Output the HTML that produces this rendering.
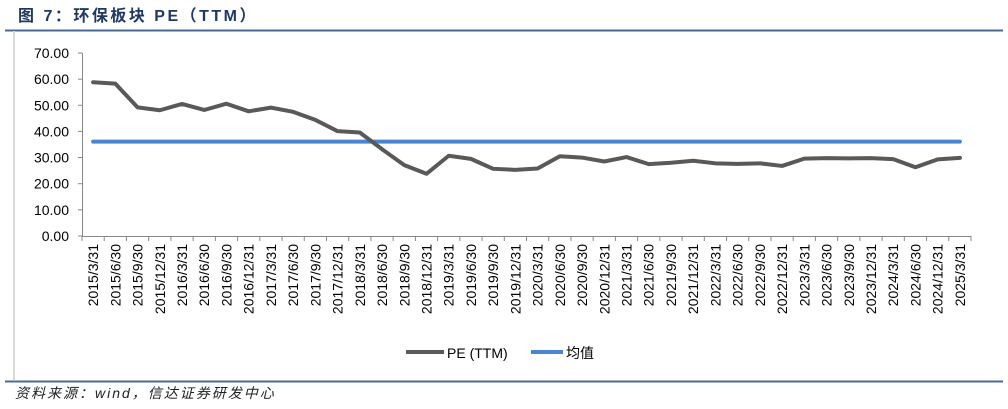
<!DOCTYPE html>
<html><head><meta charset="utf-8"><style>
body{margin:0;width:1008px;height:404px;background:#fff;overflow:hidden;font-family:"Liberation Sans","Noto Sans CJK SC",sans-serif;}
</style></head><body>
<svg width="1008" height="404" xmlns="http://www.w3.org/2000/svg">
<text x="18" y="21" font-size="16" font-weight="bold" fill="#1f3864" letter-spacing="2.5" font-family="Liberation Sans,Noto Sans CJK SC,sans-serif">图 7：环保板块 PE（TTM）</text>
<line x1="5" y1="30.5" x2="1003" y2="30.5" stroke="#4a6a94" stroke-width="2"/>
<line x1="14" y1="31" x2="14" y2="380" stroke="#d9d9d9" stroke-width="2"/>
<line x1="5" y1="381.5" x2="1003" y2="381.5" stroke="#4a6a94" stroke-width="2"/>
<text x="15" y="398" font-size="14" font-style="italic" fill="#222" letter-spacing="2" font-family="Liberation Sans,Noto Sans CJK SC,sans-serif">资料来源：wind，信达证券研发中心</text>
<g id="plot"></g>
<g>
<line x1="406" y1="352" x2="444" y2="352" stroke="#595959" stroke-width="4"/>
<text x="447" y="358" font-size="14" fill="#000">PE (TTM)</text>
<line x1="531" y1="352" x2="563" y2="352" stroke="#4a86d0" stroke-width="4"/>
<text x="566" y="358" font-size="14" fill="#000">均值</text>
</g>
</svg>
<script>
const categories=["2015/3/31","2015/6/30","2015/9/30","2015/12/31","2016/3/31","2016/6/30","2016/9/30","2016/12/31","2017/3/31","2017/6/30","2017/9/30","2017/12/31","2018/3/31","2018/6/30","2018/9/30","2018/12/31","2019/3/31","2019/6/30","2019/9/30","2019/12/31","2020/3/31","2020/6/30","2020/9/30","2020/12/31","2021/3/31","2021/6/30","2021/9/30","2021/12/31","2022/3/31","2022/6/30","2022/9/30","2022/12/31","2023/3/31","2023/6/30","2023/9/30","2023/12/31","2024/3/31","2024/6/30","2024/12/31","2025/3/31"];
const peValues=[58.8,58.3,49.2,48.1,50.5,48.2,50.6,47.7,49.1,47.5,44.4,40.1,39.6,33.2,27.1,23.8,30.7,29.5,25.7,25.3,25.8,30.5,30.0,28.5,30.2,27.5,28.0,28.8,27.8,27.6,27.8,26.8,29.6,29.8,29.7,29.8,29.4,26.3,29.3,29.9];
const meanValues=categories.map(()=>36.1);
const yTicks=[0,10,20,30,40,50,60,70];
const NS="http://www.w3.org/2000/svg";
const g=document.getElementById('plot');
const x0=82,x1=971,yTop=53,yBot=236,yMax=70;
const bw=(x1-x0)/categories.length;
const X=i=>x0+bw*(i+0.5);
const Y=v=>yBot-(v/yMax)*(yBot-yTop);
function mk(t,a){const e=document.createElementNS(NS,t);for(const k in a)e.setAttribute(k,a[k]);g.appendChild(e);return e;}
let ax=mk('line',{x1:x0+0.5,y1:yTop,x2:x0+0.5,y2:yBot,stroke:'#888'});


yTicks.forEach(v=>{
 const t=mk('line',{x1:x0-4,y1:Y(v),x2:x0,y2:Y(v),stroke:'#888'});
 
 
 const l=mk('text',{x:x0-13,y:Y(v)+5,'font-size':14,'text-anchor':'end',fill:'#000'});
 l.textContent=v.toFixed(2);
 
 
});
let xa=mk('line',{x1:x0,y1:yBot+0.5,x2:x1,y2:yBot+0.5,stroke:'#888'});


for(let i=0;i<=categories.length;i++){
 const t=mk('line',{x1:x0+bw*i,y1:yBot,x2:x0+bw*i,y2:yBot+5,stroke:'#888'});
 
 
}
categories.forEach((c,i)=>{
 const l=mk('text',{x:0,y:0,'font-size':14,'text-anchor':'end',fill:'#000',transform:`translate(${X(i)+5},${yBot+8}) rotate(-90)`});
 l.textContent=c;
 
 
});
const mp=mk('polyline',{points:meanValues.map((v,i)=>X(i)+','+Y(v)).join(' '),fill:'none',stroke:'#4a86d0','stroke-width':4,'stroke-linecap':'round'});


const pp=mk('polyline',{points:peValues.map((v,i)=>X(i)+','+Y(v)).join(' '),fill:'none',stroke:'#595959','stroke-width':4,'stroke-linejoin':'round','stroke-linecap':'round'});


</script>
</body></html>
